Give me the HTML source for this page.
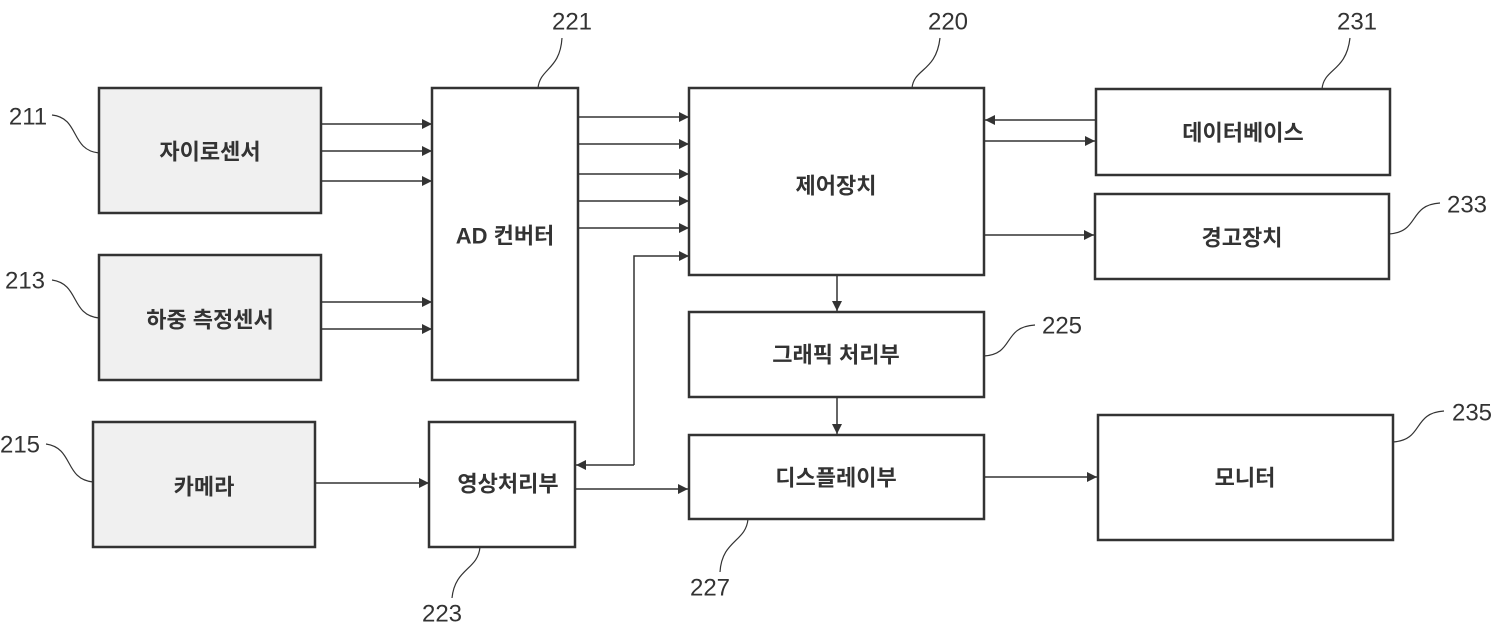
<!DOCTYPE html>
<html><head><meta charset="utf-8"><style>
html,body{margin:0;padding:0;background:#fff}
svg{display:block}
.t{font-family:"Liberation Sans","Noto Sans CJK KR","NanumGothic",sans-serif;font-weight:bold;font-size:22px;fill:#333;text-anchor:middle;dominant-baseline:central}
.n{font-family:"Liberation Sans",sans-serif;font-size:24px;fill:#333;text-anchor:middle;dominant-baseline:central}
</style></head><body>
<svg width="1500" height="637" viewBox="0 0 1500 637" xmlns="http://www.w3.org/2000/svg">
<defs><marker id="a" viewBox="0 0 10 10" refX="10" refY="5" markerWidth="10" markerHeight="10" markerUnits="userSpaceOnUse" orient="auto"><path d="M0,0L10,5L0,10z" fill="#333"/></marker></defs>
<g stroke="#333" stroke-width="2.5">
<rect x="99" y="88" width="222" height="125" fill="#f0f0f0"/>
<rect x="99" y="255" width="222" height="125" fill="#f0f0f0"/>
<rect x="93" y="422" width="222" height="125" fill="#f0f0f0"/>
<rect x="432" y="88" width="146" height="292" fill="#fff"/>
<rect x="429" y="422" width="146" height="125" fill="#fff"/>
<rect x="689" y="88" width="295" height="187" fill="#fff"/>
<rect x="689" y="312" width="295" height="85" fill="#fff"/>
<rect x="689" y="435" width="295" height="84" fill="#fff"/>
<rect x="1096" y="89" width="294" height="86" fill="#fff"/>
<rect x="1095" y="194" width="294" height="85" fill="#fff"/>
<rect x="1098" y="415" width="295" height="125" fill="#fff"/>
</g>
<g stroke="#333" stroke-width="1.5" fill="none" marker-end="url(#a)">
<path d="M321 124H432"/><path d="M321 151H432"/><path d="M321 181H432"/>
<path d="M321 302H432"/><path d="M321 329H432"/>
<path d="M578 117H689"/><path d="M578 144H689"/><path d="M578 174H689"/><path d="M578 201H689"/><path d="M578 228H689"/>
<path d="M634 465V256H689"/><path d="M634 465H576"/>
<path d="M315 483H429"/><path d="M575 489H688"/>
<path d="M1096 120H985"/><path d="M984 141H1095"/><path d="M984 235H1094"/>
<path d="M837 275V311"/><path d="M837 397V434"/><path d="M984 477H1097"/>
</g>
<g stroke="#333" stroke-width="1.2" fill="none">
<path d="M99 153C70 150 80 118 52 115"/>
<path d="M99 318C70 315 80 284 52 280"/>
<path d="M93 482C64 479 74 448 46 444"/>
<path d="M538 88C540 68 560 70 562 38"/>
<path d="M912 88C914 68 936 72 940 38"/>
<path d="M1322 89C1324 68 1346 72 1350 38"/>
<path d="M1389 234C1420 232 1408 205 1440 203"/>
<path d="M984 356C1015 354 1002 327 1035 325"/>
<path d="M1393 442C1424 440 1412 413 1444 411"/>
<path d="M480 547C478 570 455 568 452 598"/>
<path d="M748 519C746 542 722 540 720 572"/>
</g>
<g class="n">
<text x="28" y="117">211</text><text x="25" y="281">213</text><text x="20" y="445">215</text>
<text x="572" y="22">221</text><text x="948" y="22">220</text><text x="1357" y="22">231</text>
<text x="1467" y="205">233</text><text x="1062" y="326">225</text><text x="1472" y="413">235</text>
<text x="442" y="614">223</text><text x="710" y="588">227</text>
</g>
<g class="t">
<text x="210" y="152">자이로센서</text>
<text x="210" y="320">하중 측정센서</text>
<text x="204" y="487">카메라</text>
<text x="505" y="236">AD 컨버터</text>
<text x="508" y="484">영상처리부</text>
<text x="836" y="186">제어장치</text>
<text x="836" y="355">그래픽 처리부</text>
<text x="836" y="478">디스플레이부</text>
<text x="1243" y="133">데이터베이스</text>
<text x="1242" y="238">경고장치</text>
<text x="1245" y="478">모니터</text>
</g>
</svg>
</body></html>
